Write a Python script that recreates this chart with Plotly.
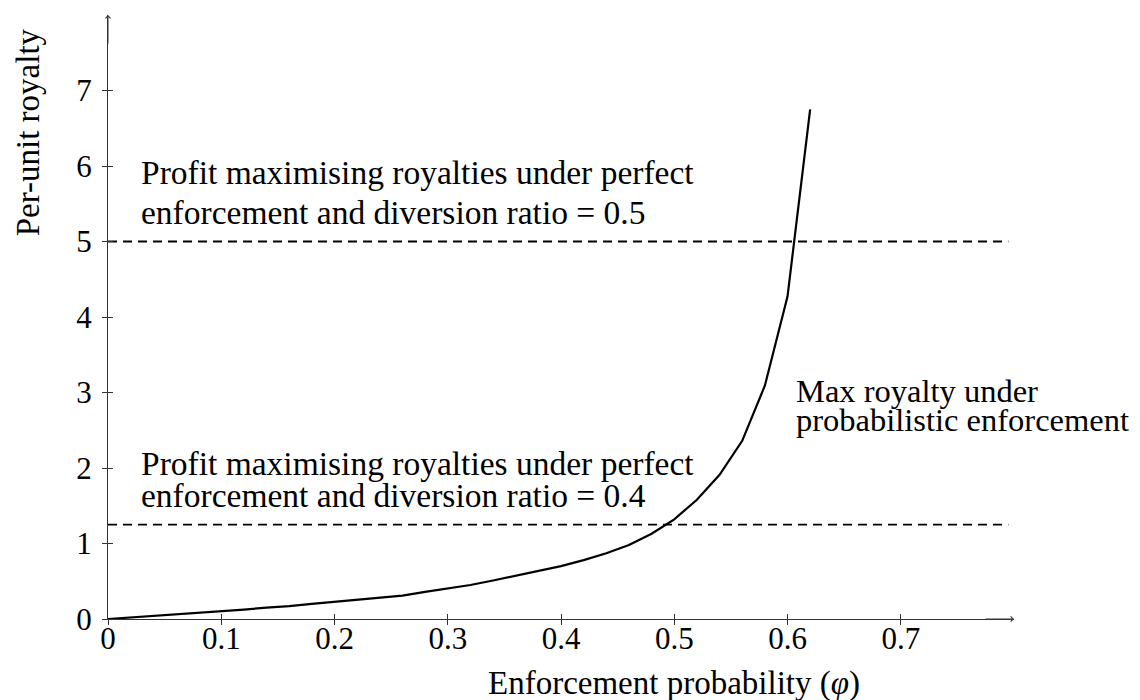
import plotly.graph_objects as go

# ---- data ----
phi = [0.00, 0.02, 0.04, 0.06, 0.08, 0.10, 0.12, 0.14, 0.16, 0.18,
       0.20, 0.22, 0.24, 0.26, 0.28, 0.30, 0.32, 0.34, 0.36, 0.38,
       0.40, 0.42, 0.44, 0.46, 0.48, 0.50, 0.52, 0.54, 0.56, 0.58,
       0.60, 0.62]
max_royalty = [0.00, 0.02, 0.04, 0.06, 0.085, 0.105, 0.125, 0.15, 0.17, 0.20,
               0.225, 0.25, 0.28, 0.31, 0.36, 0.40, 0.45, 0.51, 0.57, 0.63,
               0.70, 0.78, 0.87, 0.98, 1.13, 1.32, 1.58, 1.91, 2.36, 3.09,
               4.27, 6.75]

perfect_levels = [5.0, 1.25]          # diversion ratio 0.5 and 0.4
perfect_x = [0.0, 0.795]

x_ticks = [0, 0.1, 0.2, 0.3, 0.4, 0.5, 0.6, 0.7]
x_tick_labels = ["0", "0.1", "0.2", "0.3", "0.4", "0.5", "0.6", "0.7"]
y_ticks = [0, 1, 2, 3, 4, 5, 6, 7]
y_tick_labels = ["0", "1", "2", "3", "4", "5", "6", "7"]

x_range = [0, 0.8]
y_range = [0, 8]

FONT = "Liberation Serif"
TICK_FS = 31
TEXT_FS = 33.5
SIDE_FS = 32.5
TITLE_FS = 33
AX = "#333333"

fig = go.Figure()

fig.add_trace(go.Scatter(x=phi, y=max_royalty, mode="lines",
                         line=dict(color="black", width=2.2),
                         showlegend=False, hoverinfo="skip"))

for lvl in perfect_levels:
    fig.add_trace(go.Scatter(x=perfect_x, y=[lvl, lvl], mode="lines",
                             line=dict(color="black", width=1.8, dash="9px,6px"),
                             showlegend=False, hoverinfo="skip"))

# invisible trace on the overlay axes (inner half of the crossing ticks)
fig.add_trace(go.Scatter(x=[None], y=[None], xaxis="x2", yaxis="y2",
                         showlegend=False, hoverinfo="skip"))

axis_common = dict(showgrid=False, zeroline=False, showline=True,
                   linecolor=AX, linewidth=1, ticks="outside", ticklen=5,
                   tickcolor=AX, tickwidth=1,
                   tickfont=dict(family=FONT, size=TICK_FS, color="black"))

fig.update_layout(
    width=1140, height=700,
    margin=dict(l=100, r=134, t=7, b=89),
    paper_bgcolor="white", plot_bgcolor="white",
    xaxis=dict(range=x_range, tickvals=x_ticks, ticktext=x_tick_labels,
               ticklabelstandoff=-13, **axis_common),
    yaxis=dict(range=y_range, tickvals=y_ticks, ticktext=y_tick_labels,
               ticklabelstandoff=4, **axis_common),
    xaxis2=dict(range=x_range, overlaying="x", anchor="y2", side="bottom",
                tickvals=x_ticks, ticks="inside", ticklen=5, tickcolor=AX,
                showticklabels=False, showgrid=False, zeroline=False,
                showline=False),
    yaxis2=dict(range=y_range, overlaying="y", anchor="x2", side="left",
                tickvals=y_ticks, ticks="inside", ticklen=5, tickcolor=AX,
                showticklabels=False, showgrid=False, zeroline=False,
                showline=False),
    font=dict(family=FONT, size=TICK_FS, color="black"),
)

# axis arrows
fig.add_annotation(x=x_range[1], y=0, xref="x", yref="y", text="",
                   showarrow=True, ax=-30, ay=0, arrowhead=4, arrowsize=1,
                   arrowwidth=1, arrowcolor=AX)
fig.add_annotation(x=0, y=y_range[1], xref="x", yref="y", text="",
                   showarrow=True, ax=0, ay=30, arrowhead=4, arrowsize=1,
                   arrowwidth=1, arrowcolor=AX)

# text labels
def txt(x, y, s, size):
    fig.add_annotation(x=x, y=y, xref="x", yref="y", text=s, showarrow=False,
                       xanchor="left", yanchor="middle", align="left",
                       font=dict(family=FONT, size=size, color="black"))

txt(0.027, 5.92, "Profit maximising royalties under perfect", TEXT_FS)
txt(0.027, 5.39, "enforcement and diversion ratio = 0.5", TEXT_FS)
txt(0.027, 2.06, "Profit maximising royalties under perfect", TEXT_FS)
txt(0.027, 1.63, "enforcement and diversion ratio = 0.4", TEXT_FS)
txt(0.606, 3.02, "Max royalty under", SIDE_FS)
txt(0.606, 2.63, "probabilistic enforcement", SIDE_FS)

# axis titles
fig.add_annotation(x=0.5, y=0, xref="x", yref="paper", yshift=-64,
                   text="Enforcement probability (<i>φ</i>)", showarrow=False,
                   xanchor="center", yanchor="middle",
                   font=dict(family=FONT, size=TITLE_FS, color="black"))
fig.add_annotation(x=-0.088, y=6.45, xref="paper", yref="y",
                   text="Per-unit royalty", showarrow=False, textangle=-90,
                   xanchor="center", yanchor="middle",
                   font=dict(family=FONT, size=TITLE_FS, color="black"))

fig.write_html("out.html")
